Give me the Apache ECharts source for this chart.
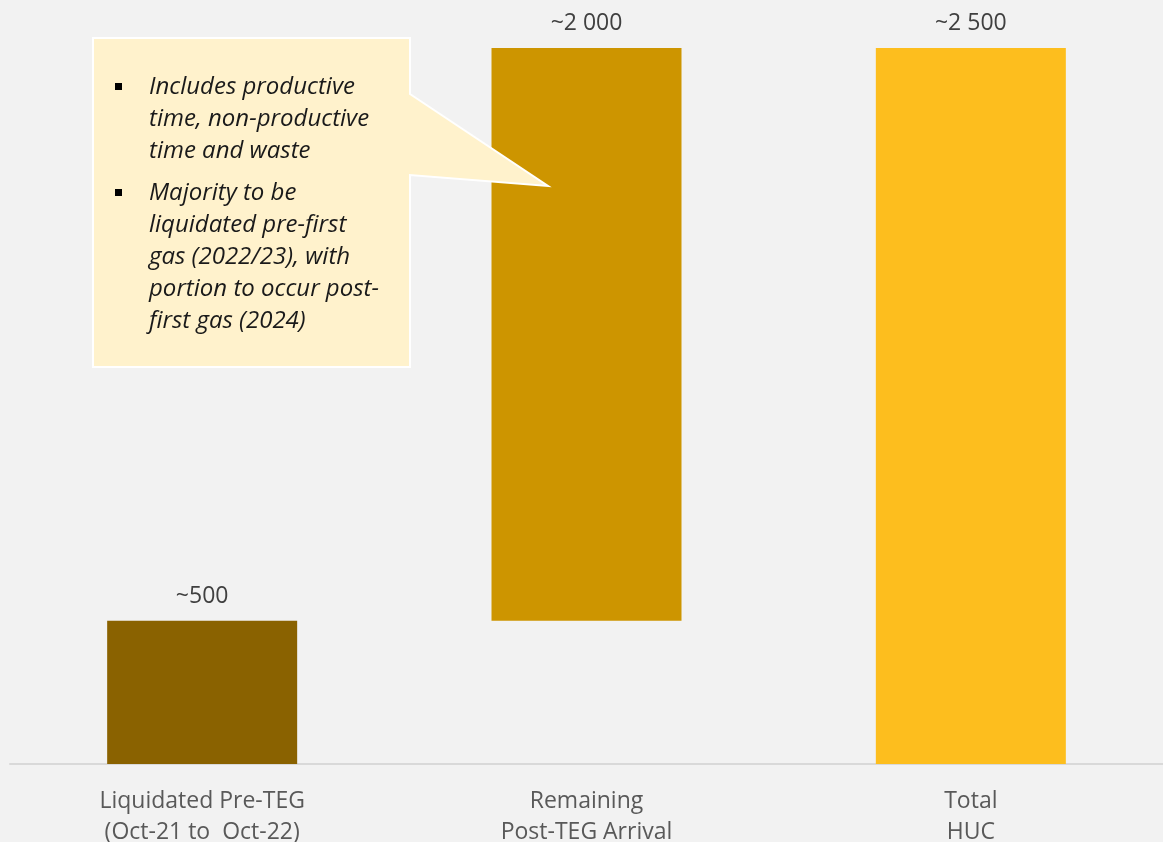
<!DOCTYPE html>
<html><head><meta charset="utf-8">
<script src="https://cdn.jsdelivr.net/npm/echarts@6/dist/echarts.min.js"></script>
<style>html,body{margin:0;padding:0;background:#f2f2f2;}#c{width:1163px;height:842px;}</style>
</head><body><div id="c"></div>
<script>
const categories = ["Liquidated Pre-TEG\n(Oct-21 to  Oct-22)", "Remaining\nPost-TEG Arrival", "Total\nHUC"];
const baseValues = [0, 500, 0];
const barValues = [500, 2000, 2500];
const barLabels = ["~500", "~2 000", "~2 500"];
const barColors = ["#8a6200", "#cd9500", "#fdbe1e"];
const noteBullets = [
  ["Includes productive", "time, non-productive", "time and waste"],
  ["Majority to be", "liquidated pre-first", "gas (2022/23), with", "portion to occur post-", "first gas (2024)"]
];

const chart = echarts.init(document.getElementById('c'));
const font = '"Open Sans", sans-serif';

const graphics = [];
graphics.push({
  type: 'polygon', z: 100,
  shape: { points: [[93,38],[410,38],[410,94],[548,186],[410,175],[410,367],[93,367]] },
  style: { fill: '#fff2cc', stroke: '#ffffff', lineWidth: 2 }
});
let y = 87;
noteBullets.forEach((lines) => {
  graphics.push({ type: 'rect', z: 101, shape: { x: 115, y: y - 4, width: 7, height: 7 }, style: { fill: '#000' } });
  lines.forEach((t) => {
    graphics.push({ type: 'text', z: 101, x: 149, y: y,
      style: { text: t, font: 'italic 500 24px "Open Sans", sans-serif', fill: '#1a1a1a', verticalAlign: 'middle', align: 'left' } });
    y += 32;
  });
  y += 10;
});

chart.setOption({
  backgroundColor: '#f2f2f2',
  animation: false,
  grid: { left: 10, right: 0, top: 48, bottom: 78, containLabel: false, outerBoundsMode: 'none' },
  xAxis: {
    type: 'category', data: categories,
    axisLine: { lineStyle: { color: '#d9d9d9', width: 2 } },
    axisTick: { show: false },
    axisLabel: { fontFamily: font, fontSize: 23, color: '#595959', lineHeight: 31, margin: 22 }
  },
  yAxis: { type: 'value', min: 0, max: 2500, show: false, splitLine: { show: false } },
  series: [
    { type: 'bar', stack: 's', data: baseValues, barWidth: 190, itemStyle: { color: 'transparent' }, silent: true },
    { type: 'bar', stack: 's', barWidth: 190,
      data: barValues.map((v, i) => ({ value: v, itemStyle: { color: barColors[i] } })),
      label: { show: true, position: 'top', distance: 13, fontFamily: font, fontSize: 23, color: '#404040',
        formatter: (p) => barLabels[p.dataIndex] } }
  ],
  graphic: graphics
});
</script></body></html>
